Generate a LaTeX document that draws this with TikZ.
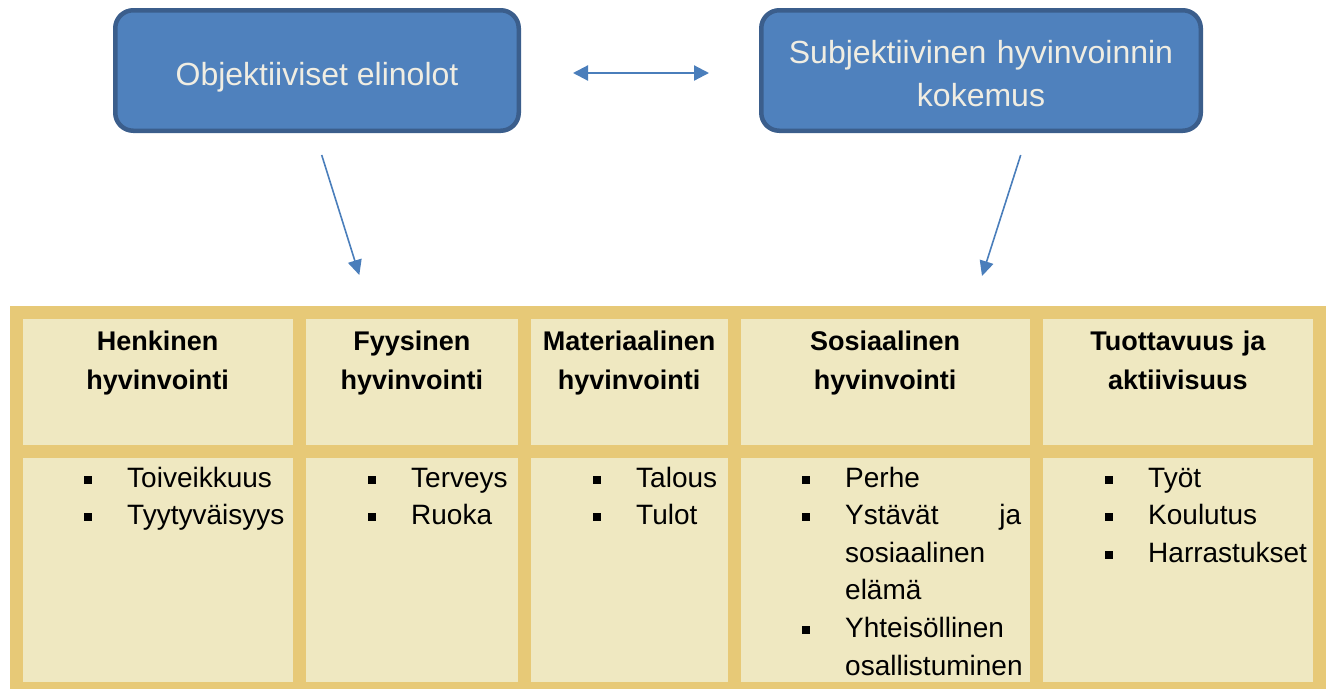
\documentclass[tikz,border=0pt]{standalone}
\usepackage{fontspec}
\setmainfont{Liberation Sans}
\usetikzlibrary{arrows.meta}
\definecolor{boxfill}{HTML}{4F81BD}
\definecolor{boxdraw}{HTML}{3B5E8C}
\definecolor{boxtext}{HTML}{F0EDE2}
\definecolor{arrowblue}{HTML}{4A7EBB}
\definecolor{gold}{HTML}{E7C977}
\definecolor{cellfill}{HTML}{EFE8C1}
\newcommand{\bulsq}{\makebox[43pt][l]{\rule[3.5pt]{8pt}{8pt}}}
\newcommand{\bulind}{\hspace*{43pt}}
\begin{document}
\begin{tikzpicture}[x=1pt,y=-1pt,
  topbox/.style={draw=boxdraw, fill=boxfill, line width=4.5pt, rounded corners=18pt,
    text=boxtext, font=\fontsize{32}{43}\selectfont, align=center, inner sep=0pt},
  cell/.style={fill=cellfill, inner sep=0pt, anchor=north west},
  headtxt/.style={anchor=base, align=center, font=\fontsize{27}{39}\selectfont\bfseries, inner sep=0pt},
  bodytxt/.style={anchor=base west, align=left, font=\fontsize{28}{37.6}\selectfont, inner sep=0pt},
  conn/.style={draw=arrowblue, line width=1.6pt, -{Triangle[length=15pt,width=14pt]}},
  dconn/.style={draw=arrowblue, line width=2.2pt, {Triangle[length=15pt,width=15pt]}-{Triangle[length=15pt,width=15pt]}},
]
\useasboundingbox (0,0) rectangle (1329,689);

% top boxes
\node[topbox, minimum width=403.5pt, minimum height=120.5pt, text height=29pt, text depth=0pt] (obj) at (317,70.5) {Objektiiviset elinolot};
\node[topbox, minimum width=439.5pt, minimum height=120.5pt, text width=430pt, text height=10pt, text depth=25pt] (subj) at (981,70.5) {Subjektiivinen hyvinvoinnin\\kokemus};

% table background
\node[fill=gold, inner sep=0pt, anchor=north west, minimum width=1316pt, minimum height=383pt] (tbl) at (10,306) {};

% header cells
\node[cell, minimum width=270pt, minimum height=126.3pt] (h1) at (22.7,318.7) {};
\node[cell, minimum width=211.7pt, minimum height=126.3pt] (h2) at (306,318.7) {};
\node[cell, minimum width=196.3pt, minimum height=126.3pt] (h3) at (531,318.7) {};
\node[cell, minimum width=289.7pt, minimum height=126.3pt] (h4) at (740.3,318.7) {};
\node[cell, minimum width=270.3pt, minimum height=126.3pt] (h5) at (1042.7,318.7) {};
% body cells
\node[cell, minimum width=270pt, minimum height=224pt] (b1) at (22.7,457.7) {};
\node[cell, minimum width=211.7pt, minimum height=224pt] (b2) at (306,457.7) {};
\node[cell, minimum width=196.3pt, minimum height=224pt] (b3) at (531,457.7) {};
\node[cell, minimum width=289.7pt, minimum height=224pt] (b4) at (740.3,457.7) {};
\node[cell, minimum width=270.3pt, minimum height=224pt] (b5) at (1042.7,457.7) {};

% header texts
\node[headtxt, text width=260pt] (t1) at (157.7,350) {Henkinen\\hyvinvointi};
\node[headtxt, text width=200pt] (t2) at (411.85,350) {Fyysinen\\hyvinvointi};
\node[headtxt, text width=190pt] (t3) at (629.15,350) {Materiaalinen\\hyvinvointi};
\node[headtxt, text width=280pt] (t4) at (885.15,350) {Sosiaalinen\\hyvinvointi};
\node[headtxt, text width=260pt] (t5) at (1177.85,350) {Tuottavuus ja\\aktiivisuus};

% body texts
\node[bodytxt, text width=205pt] (l1) at (84,487) {\bulsq Toiveikkuus\\\bulsq Tyytyväisyys};
\node[bodytxt, text width=145pt] (l2) at (368,487) {\bulsq Terveys\\\bulsq Ruoka};
\node[bodytxt, text width=130pt] (l3) at (593,487) {\bulsq Talous\\\bulsq Tulot};
\node[bodytxt, text width=219pt] (l4) at (802,487) {\bulsq Perhe\\\bulsq Ystävät\hfill ja\\\bulind sosiaalinen\\\bulind elämä\\\bulsq Yhteisöllinen\\\bulind \mbox{osallistuminen}};
\node[bodytxt, text width=205pt] (l5) at (1105,487) {\bulsq Työt\\\bulsq Koulutus\\\bulsq Harrastukset};

% connectors
\coordinate (d1) at (573,73);
\coordinate (d2) at (709,73);
\draw[dconn] (d1) -- (d2);
\coordinate (a1s) at (321.7,155);
\coordinate (a1e) at (359.3,275);
\draw[conn] (a1s) -- (a1e);
\coordinate (a2s) at (1020.7,155);
\coordinate (a2e) at (982,276);
\draw[conn] (a2s) -- (a2e);
\end{tikzpicture}
\end{document}
